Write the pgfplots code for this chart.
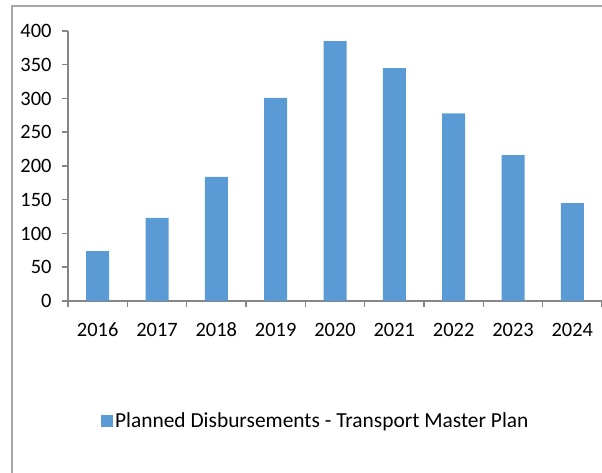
\documentclass[border=0pt]{standalone}
\usepackage{pgfplots}
\pgfplotsset{compat=1.18}
\usepackage{fontspec}
\setmainfont{Carlito}
\definecolor{barblue}{HTML}{5B9BD5}
\definecolor{axgray}{HTML}{868686}
\definecolor{framegray}{HTML}{A6A6A6}
\begin{document}
\begin{tikzpicture}[x=1bp,y=1bp]
\path[use as bounding box] (0,0) rectangle (602,473);
\draw[framegray, line width=1.2bp] (12,0) -- (12,467) -- (602,467);
\begin{axis}[
  at={(68bp,172bp)}, anchor=origin,
  scale only axis, width=534bp, height=270bp,
  xmin=0.5, xmax=9.5, ymin=0, ymax=400,
  axis x line=bottom, axis y line=left,
  axis line style={-, axgray, line width=1.5bp},
  xtick={1,...,9},
  xticklabels={2016,2017,2018,2019,2020,2021,2022,2023,2024},
  major x tick style={draw=none},
  minor xtick={0.5,1.5,...,9.5},
  minor x tick style={axgray, line width=1.5bp},
  minor tick length=6bp,
  ytick={0,50,...,400},
  y tick style={axgray, line width=1.5bp},
  major tick length=6bp,
  tick align=outside,
  tick label style={font=\fontsize{20.5}{24}\selectfont, text=black},
  /pgf/number format/assume math mode=true,
  yticklabel style={xshift=-7bp},
  xticklabel style={yshift=-12bp, text height=14bp, text depth=0pt},
  ybar, bar width=23bp,
  legend style={at={(0.464,-0.444)}, anchor=center, draw=none, fill=none,
    font=\fontsize{21.5}{25}\selectfont, inner sep=0pt},
  legend cell align=left,
  legend image code/.code={\fill[barblue] (0bp,-6bp) rectangle (12bp,6bp);},
]
\addplot[fill=barblue, draw=none] coordinates {
(1,74) (2,123) (3,184) (4,301) (5,385) (6,345) (7,278) (8,216) (9,145)};
\addlegendentry{Planned Disbursements - Transport Master Plan}
\end{axis}
\end{tikzpicture}
\end{document}
